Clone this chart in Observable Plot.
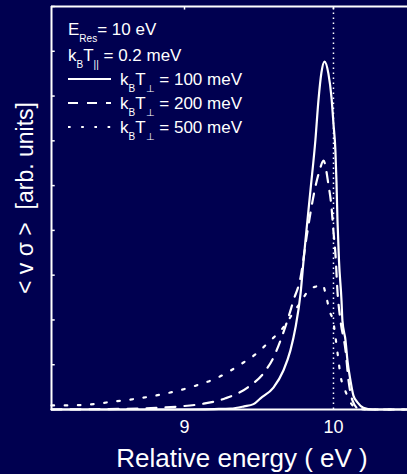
<!DOCTYPE html>
<html><head><meta charset="utf-8">
<script src="https://cdn.jsdelivr.net/npm/d3@7"></script>
<script src="https://cdn.jsdelivr.net/npm/@observablehq/plot@0.6"></script>
<style>
html,body{margin:0;padding:0;background:#000050;}
#chart{position:relative;width:407px;height:474px;overflow:hidden;}
svg text{font-family:"Liberation Sans",Arial,Helvetica,sans-serif;}
</style></head><body><div id="chart"></div>
<script>
// ---- data ----
const seriesNames = ["100 meV", "200 meV", "500 meV"];

const energy100 = [8.107, 9.0, 9.2, 9.31, 9.40, 9.463, 9.51, 9.597, 9.664, 9.711, 9.745, 9.779, 9.799, 9.812, 9.846, 9.879, 9.899, 9.919, 9.940, 9.966, 9.987, 10.000, 10.013, 10.020, 10.027, 10.037, 10.054, 10.060, 10.081, 10.094, 10.114, 10.134, 10.161, 10.201, 10.262, 10.497];
const rate100   = [0, 0, 0.01, 0.02, 0.07, 0.12, 0.25, 0.49, 0.87, 1.32, 1.83, 2.59, 3.32, 3.78, 4.91, 6.03, 6.90, 7.52, 7.77, 7.50, 6.96, 6.38, 5.78, 5.11, 4.22, 3.33, 2.43, 1.99, 1.54, 1.09, 0.65, 0.31, 0.16, 0.04, 0, 0];

const energy200 = [8.107, 8.705, 8.839, 8.973, 9.128, 9.275, 9.423, 9.544, 9.597, 9.644, 9.691, 9.732, 9.779, 9.819, 9.846, 9.872, 9.906, 9.933, 9.966, 9.987, 10.000, 10.013, 10.027, 10.047, 10.081, 10.101, 10.128, 10.168, 10.248, 10.497];
const rate200   = [0, 0.02, 0.04, 0.07, 0.13, 0.25, 0.49, 0.87, 1.16, 1.54, 1.99, 2.44, 2.95, 3.84, 4.40, 4.87, 5.33, 5.56, 5.03, 4.51, 3.97, 3.48, 2.63, 1.99, 1.32, 0.65, 0.20, 0.02, 0, 0];

const energy500 = [8.107, 8.18, 8.356, 8.530, 8.698, 8.879, 9.054, 9.221, 9.396, 9.483, 9.570, 9.658, 9.718, 9.780, 9.839, 9.885, 9.926, 9.953, 9.973, 10.000, 10.013, 10.034, 10.047, 10.074, 10.107, 10.148, 10.215, 10.497];
const rate500   = [0.09, 0.09, 0.11, 0.18, 0.25, 0.36, 0.51, 0.71, 1.05, 1.25, 1.52, 1.81, 2.10, 2.40, 2.68, 2.75, 2.79, 2.50, 2.21, 1.94, 1.63, 1.09, 0.76, 0.47, 0.20, 0.04, 0, 0];

const resonanceEnergy = [10];
const xTicks = [9, 10];
const yTicks = [0, 1, 2, 3, 4, 5, 6, 7, 8, 9];
const xDomain = [8.107, 10.497];
const yDomain = [0, 9];

const xLabel = "Relative energy ( eV )";
const yLabel = "< v σ >  [arb. units]";
const legendHeader = [
  [{t: "E"}, {t: "Res", sub: true}, {t: "= 10 eV"}],
  [{t: "k"}, {t: "B", sub: true}, {t: "T"}, {t: "||", sub: true}, {t: " = 0.2 meV"}]
];
const legendEntries = seriesNames.map(n => [{t: "k"}, {t: "B", sub: true}, {t: "T"}, {t: "⊥", sub: true}, {t: " = " + n}]);
const dashes = [null, "10,9", "2.6,10.6"];

// ---- build table ----
const series = [[energy100, rate100], [energy200, rate200], [energy500, rate500]];
const rows = series.flatMap(([E, V], k) => E.map((e, i) => ({series: seriesNames[k], E: e, v: V[i]})));

const W = "white";
const plot = Plot.plot({
  width: 407, height: 474,
  marginLeft: 51, marginRight: 0, marginTop: 6, marginBottom: 65,
  style: {background: "#000050", color: "white", fontFamily: "Liberation Sans, Arial, sans-serif", overflow: "visible"},
  x: {domain: xDomain},
  y: {domain: yDomain, axis: null},
  marks: [
    Plot.ruleX(resonanceEnergy, {y1: yDomain[0], y2: yDomain[1], stroke: W, strokeWidth: 1.5, strokeDasharray: "1.5,3.5"}),
    ...seriesNames.map((n, k) => Plot.line(rows.filter(d => d.series === n), {
      x: "E", y: "v", stroke: W, strokeWidth: 2.2, curve: "monotone-x",
      strokeDasharray: dashes[k] || undefined
    })),
    Plot.ruleX([xDomain[0]], {y1: yDomain[0], y2: yDomain[1], stroke: W, strokeWidth: 2}),
    Plot.ruleY([yDomain[0], yDomain[1]], {x1: xDomain[0], x2: xDomain[1], stroke: W, strokeWidth: 2}),
    Plot.ruleY(yTicks, {x1: xDomain[0], x2: xDomain[0] + 0.025, stroke: W, strokeWidth: 1.5}),
    Plot.ruleX(xTicks, {y1: yDomain[1], y2: yDomain[1] - 0.08, stroke: W, strokeWidth: 1.5}),
    Plot.axisX({ticks: xTicks, tickSize: 0, tickPadding: 11, fontSize: 18, label: null, tickFormat: d => String(d)})
  ]
});

document.getElementById("chart").appendChild(plot);

// ---- labels & legend (real text) ----
const svg = d3.select(plot);

svg.append("text").attr("x", 242).attr("y", 467).attr("text-anchor", "middle")
  .attr("fill", W).attr("font-size", 26).text(xLabel);

svg.append("text").attr("transform", "translate(33,198) rotate(-90)").attr("text-anchor", "middle")
  .attr("fill", W).attr("font-size", 23).text(yLabel);

function richText(parts, x, y) {
  const t = svg.append("text").attr("x", x).attr("y", y).attr("fill", W)
    .attr("font-size", 17).attr("text-anchor", "start");
  let shifted = false;
  parts.forEach(p => {
    const s = t.append("tspan").text(p.t);
    if (p.sub) { s.attr("font-size", 10).attr("dy", 7); shifted = true; }
    else if (shifted) { s.attr("dy", -7); shifted = false; }
  });
}
richText(legendHeader[0], 68, 35);
richText(legendHeader[1], 68, 61);
const legendY = [85, 109, 133];
legendEntries.forEach((parts, k) => {
  const y = legendY[k];
  const l = svg.append("line").attr("x1", 68).attr("x2", 111).attr("y1", y - 6).attr("y2", y - 6)
    .attr("stroke", W).attr("stroke-width", 2.2);
  if (dashes[k]) l.attr("stroke-dasharray", dashes[k]);
  richText(parts, 120, y);
});
</script></body></html>
